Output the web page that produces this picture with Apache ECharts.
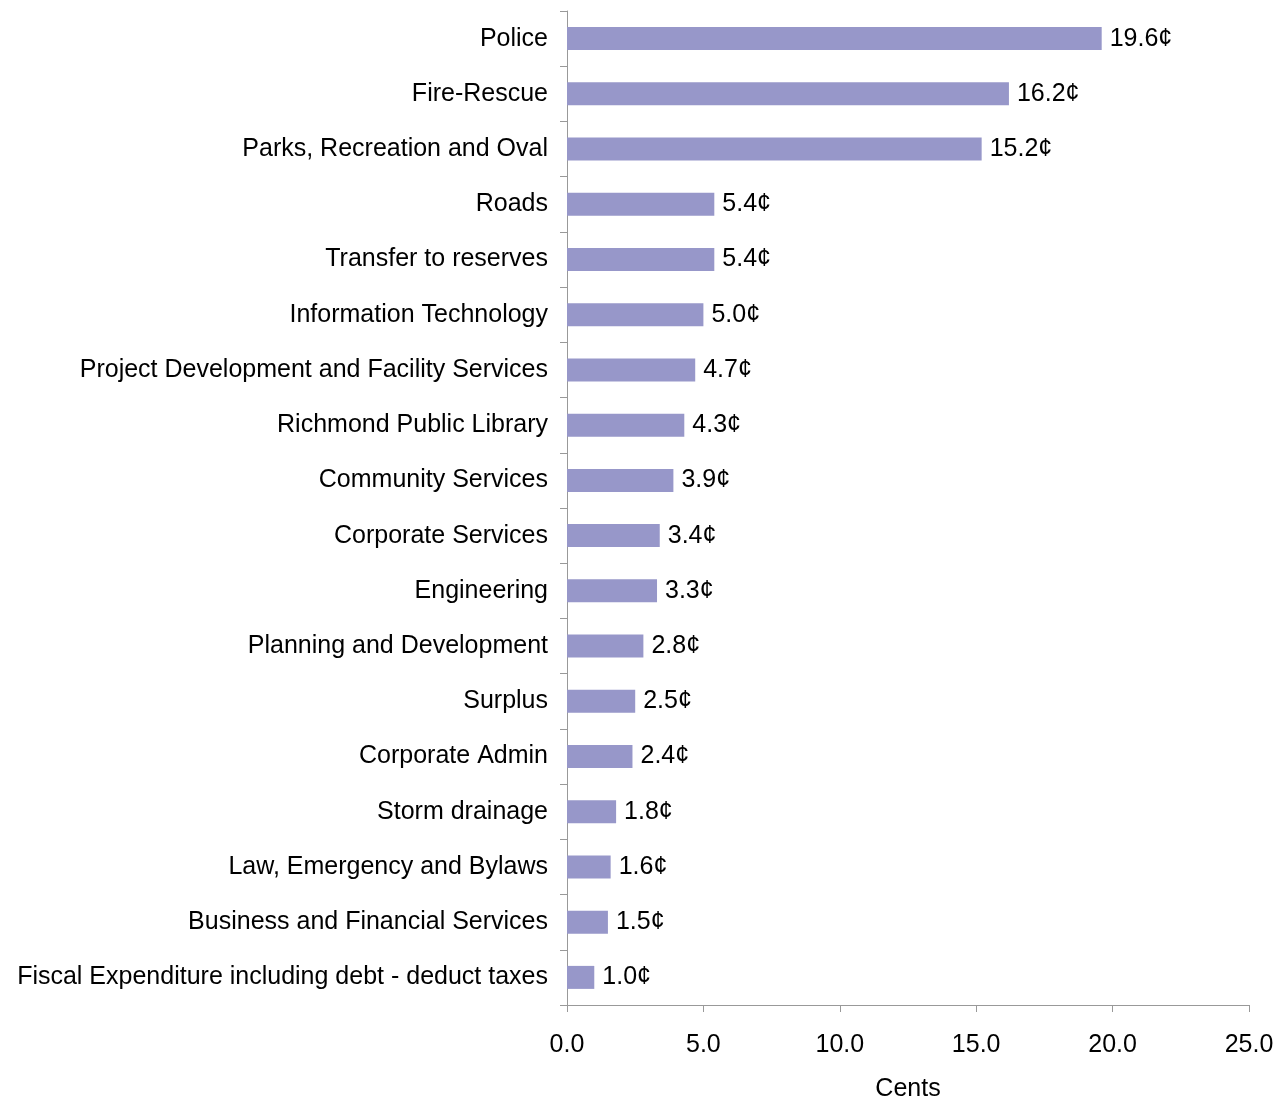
<!DOCTYPE html>
<html>
<head>
<meta charset="utf-8">
<script src="https://cdn.jsdelivr.net/npm/echarts@6/dist/echarts.min.js"></script>
<style>html,body{margin:0;padding:0;background:#fff}#c{width:1288px;height:1099px}</style>
</head>
<body>
<div id="c"></div>
<script>
var categories = ["Police","Fire-Rescue","Parks, Recreation and Oval","Roads","Transfer to reserves","Information Technology","Project Development and Facility Services","Richmond Public Library","Community Services","Corporate Services","Engineering","Planning and Development","Surplus","Corporate Admin","Storm drainage","Law, Emergency and Bylaws","Business and Financial Services","Fiscal Expenditure including debt - deduct taxes"];
var values = [19.6,16.2,15.2,5.4,5.4,5.0,4.7,4.3,3.9,3.4,3.3,2.8,2.5,2.4,1.8,1.6,1.5,1.0];
var xTicks = [0,5,10,15,20,25];
var axisName = "Cents";

var font = "Liberation Sans, Arial, sans-serif";
var fs = 25;
var chart = echarts.init(document.getElementById('c'), null, {renderer:'canvas'});
chart.setOption({
  animation:false,
  backgroundColor:'#fff',
  grid:{left:567,right:39,top:11,bottom:94,containLabel:false,outerBoundsMode:'none'},
  xAxis:{
    type:'value',min:xTicks[0],max:xTicks[xTicks.length-1],interval:5,
    name:axisName,nameLocation:'middle',nameGap:72,
    nameTextStyle:{color:'#000',fontSize:fs,fontFamily:font},
    axisLine:{show:true,lineStyle:{color:'#999',width:1}},
    axisTick:{show:true,length:7,lineStyle:{color:'#999'}},
    splitLine:{show:false},
    axisLabel:{color:'#000',fontSize:fs,fontFamily:font,margin:28,formatter:function(v){return v.toFixed(1);}}
  },
  yAxis:{
    type:'category',data:categories,inverse:true,
    axisLine:{show:true,lineStyle:{color:'#999',width:1}},
    axisTick:{show:true,length:7,lineStyle:{color:'#999'}},
    axisLabel:{color:'#000',fontSize:fs,fontFamily:font,margin:19,padding:[3,0,0,0]}
  },
  series:[{
    type:'bar',data:values,barWidth:23,
    itemStyle:{color:'#9797C9'},
    label:{show:true,position:'right',distance:8,color:'#000',fontSize:fs,fontFamily:font,padding:[4,0,0,0],
      formatter:function(p){return p.value.toFixed(1)+'¢';}}
  }]
});
</script>
</body>
</html>
